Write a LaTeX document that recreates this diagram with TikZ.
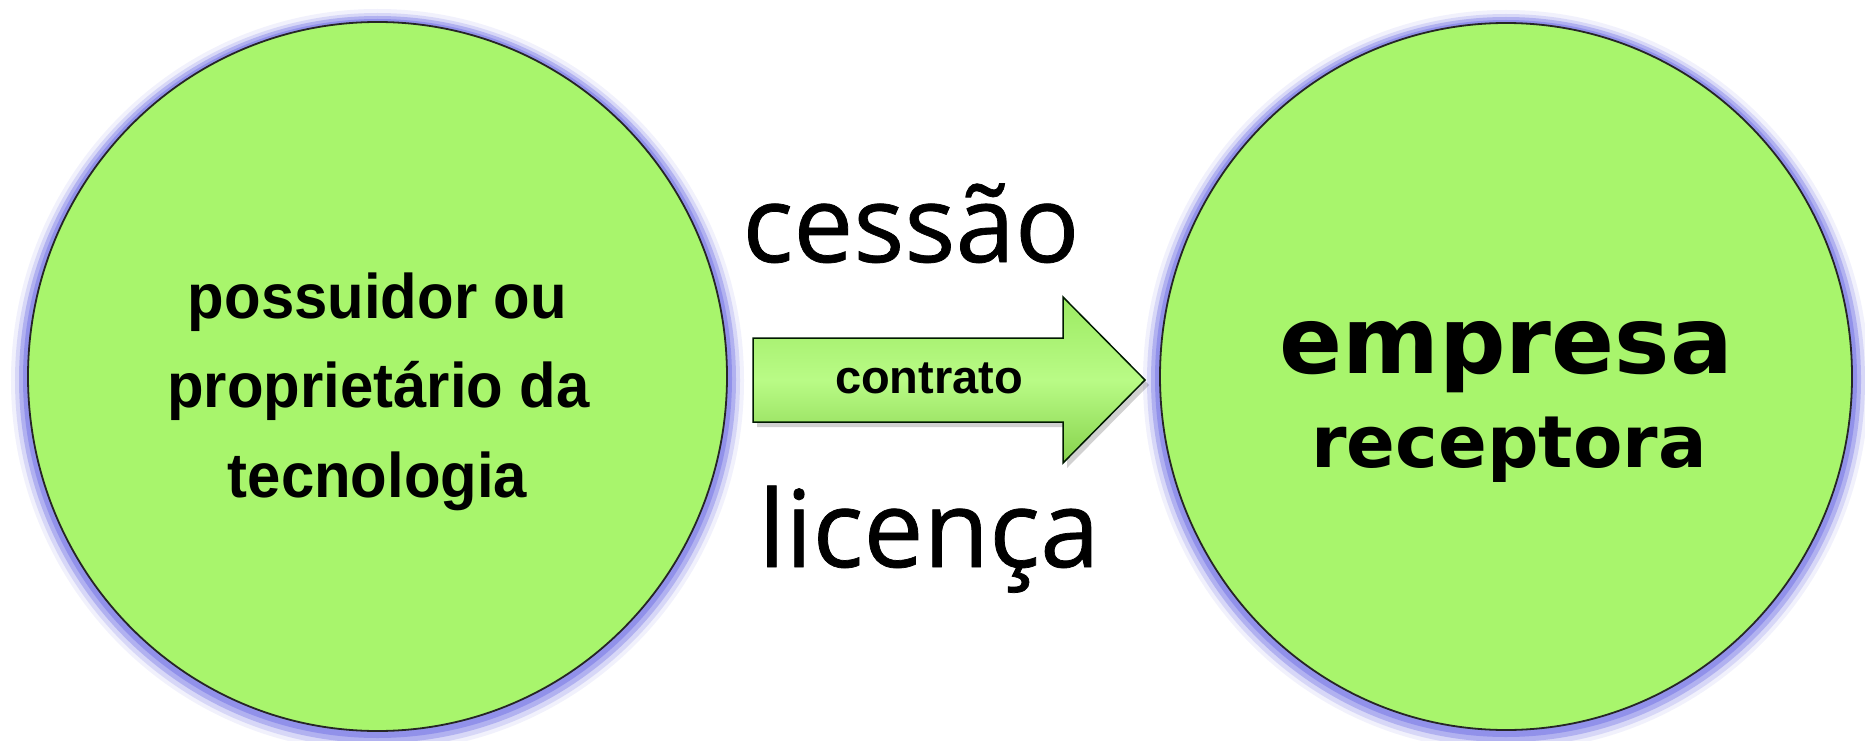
\documentclass[tikz,border=0pt]{standalone}
\usepackage{fontspec}
\setmainfont{Liberation Sans}
\newfontfamily\osans[FakeBold=0.7]{Open Sans}
\newfontfamily\dvs{DejaVu Sans}
\usetikzlibrary{shapes.geometric}
\definecolor{ballg}{HTML}{A8F56C}
\definecolor{balle}{HTML}{96E25C}
\definecolor{glowc}{HTML}{8C8CEA}
\definecolor{arrtop}{HTML}{9CEA62}
\definecolor{arrmid}{HTML}{B9FB86}
\definecolor{arrbot}{HTML}{86D24C}
\pgfdeclareradialshading{ballshade}{\pgfpoint{0bp}{0bp}}{color(0bp)=(ballg); color(42bp)=(ballg); color(50bp)=(balle)}
\begin{document}
\begin{tikzpicture}[x=1pt,y=-1pt,
  ball/.style={ellipse, inner sep=0pt, draw=black!85, line width=1.8pt,
    preaction={draw=glowc, line width=34pt, draw opacity=.12, transform canvas={yshift=-4pt}},
    preaction={draw=glowc, line width=26pt, draw opacity=.25, transform canvas={yshift=-4pt}},
    preaction={draw=glowc, line width=18pt, draw opacity=.5, transform canvas={yshift=-3pt}},
    preaction={draw=glowc, line width=10pt, draw opacity=.85, transform canvas={yshift=-2pt}},
    shading=ballshade},
  lefttxt/.style={anchor=base, inner sep=0pt, font=\fontsize{63}{70}\selectfont\bfseries},
  bigtxt/.style={anchor=base, inner sep=0pt, font=\osans\fontsize{107}{120}\selectfont},
  blockarrow/.style={draw=black!75!green!40!black, line width=1.5pt, top color=arrtop, bottom color=arrbot, middle color=arrmid}
]
\useasboundingbox (0,0) rectangle (1865,741);
\fill[white] (0,0) rectangle (1865,741);

% circles
\node[ball, minimum width=699pt, minimum height=709pt] (L) at (377.5,376.5) {};
\node[ball, minimum width=692pt, minimum height=707pt] (R) at (1506,376.5) {};

% block arrow between the circles
\coordinate (tail) at (753,380);
\coordinate (tip) at (1145,380);
\fill[black, opacity=.18] ([shift={(4,5)}]tail) ++(0,-42) -- ++(310,0) -- ++(0,-41) -- ([shift={(4,5)}]tip) -- ++(-82,83) -- ++(0,-41) -- ++(-310,0) -- cycle;
\path[blockarrow] (tail) ++(0,-42) -- ++(310,0) -- ++(0,-41) -- (tip) -- ++(-82,83) -- ++(0,-41) -- ++(-310,0) -- cycle;
\node[anchor=base, inner sep=0pt, font=\fontsize{47}{50}\selectfont\bfseries] (ctr) at (929,393) {contrato};

% labels
\node[bigtxt] (ces) at (911,262) {cessão};
\node[bigtxt] (lic) at (929,567) {licença};

\node[lefttxt] (l1) at (377.5,318) {\scalebox{0.95}[1]{possuidor ou}};
\node[lefttxt] (l2) at (378.5,407) {\scalebox{0.95}[1]{proprietário da}};
\node[lefttxt] (l3) at (377.5,497) {\scalebox{0.95}[1]{tecnologia}};

\node[anchor=base, inner sep=0pt, font=\dvs\fontsize{93}{100}\selectfont\bfseries] (emp) at (1506,373) {empresa};
\node[anchor=base, inner sep=0pt, font=\dvs\fontsize{72}{80}\selectfont\bfseries] (rec) at (1509,467) {receptora};
\end{tikzpicture}
\end{document}
